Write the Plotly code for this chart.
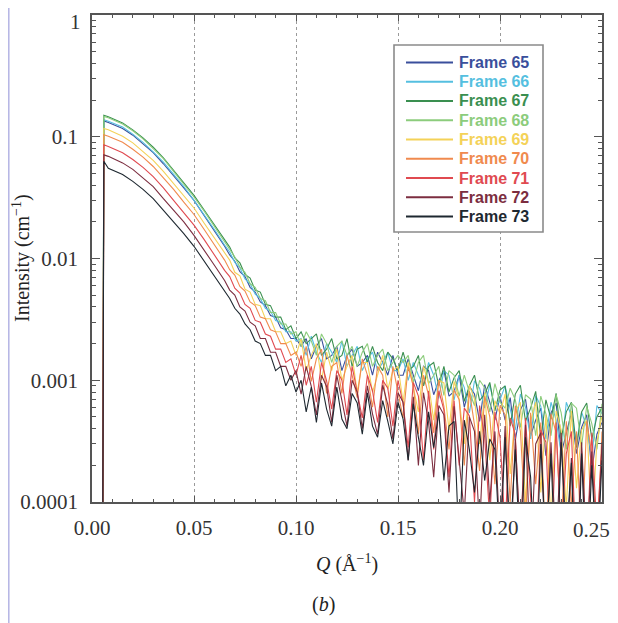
import plotly.graph_objects as go

# Q values (Å^-1)
q = [0.0052, 0.0058, 0.008, 0.0105, 0.015, 0.02, 0.025, 0.03, 0.035, 0.04, 0.045, 0.05, 0.055, 0.06, 0.065,
     0.0675, 0.07, 0.0725, 0.075, 0.0775, 0.08, 0.0825, 0.085, 0.0875, 0.09, 0.0925, 0.095, 0.0975, 0.1,
     0.1025, 0.105, 0.1075, 0.11, 0.1125, 0.115, 0.1175, 0.12, 0.1225, 0.125,
     0.1275, 0.13, 0.1325, 0.135, 0.1375, 0.14, 0.1425, 0.145, 0.1475, 0.15,
     0.1525, 0.155, 0.1575, 0.16, 0.1625, 0.165, 0.1675, 0.17, 0.1725, 0.175,
     0.1775, 0.18, 0.1825, 0.185, 0.1875, 0.19, 0.1925, 0.195, 0.1975, 0.2,
     0.2025, 0.205, 0.2075, 0.21, 0.2125, 0.215, 0.2175, 0.22, 0.2225, 0.225,
     0.2275, 0.23, 0.2325, 0.235, 0.2375, 0.24, 0.2425, 0.245, 0.2475, 0.25]

frame65 = [2e-5, 0.135, 0.131, 0.126, 0.117, 0.103, 0.088, 0.074, 0.060, 0.048, 0.038, 0.030, 0.0225, 0.0169, 0.0126,
           0.0107, 0.0095, 0.0078, 0.0071, 0.0058, 0.0053, 0.0044, 0.0041, 0.0034, 0.0033, 0.0027, 0.0026, 0.0022, 0.0022,
           0.0019, 0.0022, 0.0015, 0.0019, 0.0022, 0.0015, 0.0016, 0.0019, 0.0012, 0.0016,
           0.0018, 0.0013, 0.0014, 0.0016, 0.0011, 0.0017, 0.0014, 0.0011, 0.0016, 0.0011,
           0.0011, 0.0015, 0.0011, 0.00082, 0.0013, 0.0012, 0.00076, 0.00099, 0.0012, 0.00074,
           0.00081, 0.0011, 0.0006, 0.00089, 0.00077, 0.00046, 0.00092, 0.00065, 0.00047, 0.00074,
           0.00047, 0.00072, 0.00032, 0.00057, 0.0007, 0.00035, 0.00047, 0.00059, 0.00024, 0.00054,
           0.00065, 0.00025, 0.00037, 0.00054, 0.00025, 0.00041, 0.00052, 0.00018, 0.00036, 0.00045]

frame66 = [2e-5, 0.138, 0.134, 0.129, 0.120, 0.105, 0.090, 0.075, 0.062, 0.049, 0.039, 0.030, 0.023, 0.0173, 0.0129,
           0.0113, 0.0093, 0.0084, 0.0068, 0.0062, 0.0051, 0.0047, 0.0039, 0.0037, 0.0031, 0.0030, 0.0025, 0.0025, 0.0021,
           0.0022, 0.0016, 0.0023, 0.0017, 0.0014, 0.0020, 0.0017, 0.0014, 0.0021, 0.0013,
           0.0016, 0.0019, 0.0012, 0.0015, 0.0017, 0.0012, 0.0014, 0.0017, 0.0012, 0.0012,
           0.0015, 0.0010, 0.0014, 0.0011, 0.0009, 0.0014, 0.0011, 0.00071, 0.0012, 0.0011,
           0.00069, 0.0011, 0.00087, 0.00054, 0.00099, 0.00086, 0.00059, 0.00092, 0.00059, 0.00069,
           0.0009, 0.00058, 0.00039, 0.00077, 0.0006, 0.00033, 0.00075, 0.00061, 0.00033, 0.00066,
           0.00047, 0.00025, 0.00066, 0.00051, 0.0003, 0.00055, 0.00041, 0.00023, 0.00062, 0.00053]

frame67 = [2e-5, 0.150, 0.146, 0.140, 0.130, 0.114, 0.098, 0.082, 0.067, 0.053, 0.042, 0.033, 0.025, 0.0188, 0.0140,
           0.0124, 0.0101, 0.0092, 0.0074, 0.0069, 0.0055, 0.0053, 0.0042, 0.0041, 0.0033, 0.0033, 0.0026, 0.0028, 0.0022,
           0.0025, 0.0020, 0.0022, 0.0024, 0.0016, 0.0018, 0.0022, 0.0015, 0.0016, 0.0022,
           0.0013, 0.0018, 0.0019, 0.0014, 0.0019, 0.0014, 0.0012, 0.0017, 0.0015, 0.0012,
           0.0017, 0.0012, 0.0013, 0.0016, 0.0009, 0.0013, 0.0014, 0.0009, 0.0013, 0.0008,
           0.00105, 0.0012, 0.00067, 0.0009, 0.0011, 0.00068, 0.00077, 0.00096, 0.00056, 0.00083,
           0.0009, 0.00042, 0.00077, 0.00091, 0.00046, 0.00059, 0.00081, 0.00033, 0.00069, 0.00048,
           0.00078, 0.00033, 0.00055, 0.00066, 0.00028, 0.00055, 0.00065, 0.00033, 0.0005, 0.0006]

frame68 = [2e-5, 0.147, 0.143, 0.137, 0.127, 0.112, 0.096, 0.080, 0.066, 0.052, 0.041, 0.032, 0.0245, 0.0184, 0.0137,
           0.0117, 0.0103, 0.0085, 0.0077, 0.0062, 0.0058, 0.0047, 0.0045, 0.0036, 0.0036, 0.0029, 0.0029, 0.0024, 0.0025,
           0.0019, 0.0025, 0.0021, 0.0016, 0.0024, 0.0020, 0.0014, 0.0019, 0.0021, 0.0016,
           0.0019, 0.0013, 0.0017, 0.0020, 0.0013, 0.0016, 0.0018, 0.0012, 0.0014, 0.0016,
           0.0014, 0.0016, 0.00096, 0.0014, 0.0016, 0.00094, 0.0011, 0.0013, 0.00075, 0.0012,
           0.0011, 0.00074, 0.0011, 0.0008, 0.00062, 0.001, 0.00087, 0.00055, 0.00094, 0.00066,
           0.00059, 0.00086, 0.00069, 0.00041, 0.00076, 0.0007, 0.00035, 0.00074, 0.00053, 0.00035,
           0.00076, 0.00054, 0.00027, 0.00065, 0.00059, 0.00029, 0.00061, 0.00044, 0.00027, 0.00064]

frame69 = [2e-5, 0.117, 0.114, 0.109, 0.101, 0.089, 0.076, 0.064, 0.052, 0.041, 0.033, 0.026, 0.0195, 0.0147, 0.0109,
           0.0097, 0.0077, 0.0072, 0.0056, 0.0053, 0.0042, 0.0041, 0.0032, 0.0032, 0.0025, 0.0025, 0.0020, 0.0021, 0.0016,
           0.0022, 0.0012, 0.0016, 0.0020, 0.0010, 0.0017, 0.0012, 0.0018, 0.0010, 0.0013,
           0.0016, 0.0008, 0.0014, 0.0014, 0.0008, 0.0011, 0.0016, 0.00084, 0.0012, 0.0013,
           0.00066, 0.0014, 0.0009, 0.00055, 0.0013, 0.00094, 0.00047, 0.0010, 0.00095, 0.00039,
           0.00098, 0.0007, 0.0003, 0.00091, 0.0007, 0.0003, 0.00079, 0.00022, 0.00068, 0.00053,
           0.00077, 0.00017, 0.00055, 0.00066, 0.0001, 0.00046, 0.00066, 0.00012, 0.00052, 0.00007,
           0.00056, 0.00039, 0.00009, 0.00056, 0.00013, 0.00039, 0.00047, 0.00006, 0.00031, 0.00051]

frame70 = [2e-5, 0.104, 0.101, 0.097, 0.090, 0.079, 0.068, 0.057, 0.046, 0.037, 0.029, 0.023, 0.0173, 0.0130, 0.0097,
           0.0081, 0.0073, 0.0059, 0.0054, 0.0044, 0.0041, 0.0033, 0.0032, 0.0026, 0.0025, 0.0020, 0.0020, 0.0016, 0.0017,
           0.0013, 0.0019, 0.00098, 0.0015, 0.0018, 0.00078, 0.0013, 0.0014, 0.00078, 0.0016,
           0.0011, 0.00072, 0.0015, 0.0011, 0.0006, 0.0013, 0.0011, 0.0005, 0.0013, 0.00078,
           0.00049, 0.0013, 0.0009, 0.00036, 0.0011, 0.00075, 0.00037, 0.0010, 0.00061, 0.00027,
           0.00083, 0.00069, 0.0002, 0.00081, 0.00043, 0.00018, 0.00074, 0.0005, 0.00014, 0.00062,
           0.00052, 0.0001, 0.00062, 0.00038, 0.00007, 0.00054, 0.00014, 0.00045, 0.00004, 0.00053,
           0.00037, 0.00006, 0.00046, 0.00009, 0.00038, 0.00004, 0.00046, 0.00025, 0.00004, 0.00038]

frame71 = [2e-5, 0.086, 0.083, 0.080, 0.074, 0.065, 0.056, 0.047, 0.038, 0.030, 0.024, 0.0188, 0.0143, 0.0107, 0.0080,
           0.0071, 0.0057, 0.0052, 0.0042, 0.0039, 0.0031, 0.0030, 0.0024, 0.0023, 0.0018, 0.0018, 0.0014, 0.0015, 0.0011,
           0.0016, 0.00091, 0.0013, 0.00066, 0.0014, 0.00099, 0.00058, 0.0012, 0.0010, 0.00052,
           0.0013, 0.00078, 0.00049, 0.0011, 0.00082, 0.00045, 0.0010, 0.00086, 0.00042, 0.0010,
           0.00064, 0.00028, 0.00096, 0.00074, 0.00022, 0.00082, 0.00027, 0.00082, 0.00057, 0.00016,
           0.00068, 0.0002, 0.00059, 0.00051, 0.0001, 0.00062, 0.00034, 0.00007, 0.00055, 0.00034,
           0.00006, 0.00049, 0.00036, 0.00004, 0.00049, 0.00011, 0.00003, 0.00039, 0.00031, 0.00003,
           0.00045, 0.00005, 0.00025, 0.00038, 0.00003, 0.00026, 0.00004, 0.00037, 0.00006, 0.00029]

frame72 = [2e-5, 0.071, 0.069, 0.066, 0.061, 0.054, 0.046, 0.039, 0.031, 0.025, 0.020, 0.0155, 0.0118, 0.0088, 0.0066,
           0.0055, 0.0050, 0.0040, 0.0037, 0.0030, 0.0028, 0.0022, 0.0022, 0.0017, 0.0017, 0.0013, 0.0013, 0.0010, 0.0012,
           0.00077, 0.0013, 0.00089, 0.00052, 0.0011, 0.00089, 0.00045, 0.0011, 0.00068, 0.00042,
           0.0010, 0.0008, 0.0004, 0.0009, 0.00053, 0.00036, 0.00091, 0.00063, 0.00033, 0.00079,
           0.00066, 0.00022, 0.00073, 0.0002, 0.00079, 0.00045, 0.00016, 0.00062, 0.00052, 0.00012,
           0.00061, 0.00024, 0.00008, 0.0005, 0.00038, 0.00006, 0.00052, 0.0001, 0.00038, 0.00005,
           0.00042, 0.00003, 0.00033, 0.00005, 0.00043, 0.00003, 0.0003, 0.00037, 0.00003, 0.00031,
           0.00004, 0.00037, 0.00003, 0.00023, 0.00002, 0.00031, 0.00004, 0.00026, 0.00003, 0.00031]

frame73 = [2e-5, 0.063, 0.055, 0.053, 0.049, 0.043, 0.037, 0.031, 0.025, 0.020, 0.016, 0.0126, 0.0095, 0.0071, 0.0053,
           0.0047, 0.0039, 0.0035, 0.0029, 0.0026, 0.0021, 0.0020, 0.0016, 0.0016, 0.0012, 0.0013, 0.0009, 0.0011, 0.0008,
           0.0010, 0.00055, 0.00088, 0.00045, 0.00095, 0.00058, 0.00042, 0.00088, 0.00048, 0.0004,
           0.00078, 0.00065, 0.00036, 0.00079, 0.00042, 0.00034, 0.00068, 0.00046, 0.0003, 0.00066,
           0.00048, 0.00022, 0.00064, 0.00034, 0.0002, 0.00055, 0.00028, 0.00055, 0.00015, 0.00042,
           0.00046, 0.00004, 0.00047, 0.00027, 0.00012, 0.00038, 0.00015, 0.00033, 0.00027, 0.00004,
           0.00034, 0.00005, 0.00027, 0.00003, 0.00034, 0.00016, 0.00002, 0.0003, 0.00004, 0.00025,
           0.00002, 0.00031, 0.00005, 0.00021, 0.00001, 0.00025, 0.00002, 0.0002, 0.00003, 0.00022]

frame_names = ["Frame 65", "Frame 66", "Frame 67", "Frame 68", "Frame 69",
               "Frame 70", "Frame 71", "Frame 72", "Frame 73"]
frame_colors = ["#3a4f9c", "#55bfe0", "#3a8f50", "#8ccc7c", "#f4d258",
                "#f08a4e", "#e04a50", "#7c2e40", "#1e2830"]
series = [frame65, frame66, frame67, frame68, frame69, frame70, frame71, frame72, frame73]

for s in series:
    assert len(s) == len(q), (len(s), len(q))

# tick labels; the end labels "1" and "0.25" sit on the frame edge and are placed as text
y_tickvals = [1e-4, 1e-3, 1e-2, 1e-1]
y_ticktext = ["0.0001", "0.001", "0.01", "0.1"]
x_tickvals = [0, 0.05, 0.10, 0.15, 0.20]
x_ticktext = ["0.00", "0.05", "0.10", "0.15", "0.20"]
y_top_label = "1"
x_end_label = "0.25"
y_minor = [k * 10.0 ** e for e in range(-4, 0) for k in range(2, 10)]

# page has an 8px body margin: figure occupies page pixels 8..618 x 8..623
OFF = 8
W, H = 618 - OFF, 623 - OFF
# plot area in page pixels: x 92..602, y 15..502
ml, mr, mt, mb = 92 - OFF, 618 - 602, 15 - OFF, 623 - 502
pw, ph = W - ml - mr, H - mt - mb


def px2x(px):
    return (px - OFF - ml) / pw


def px2y(py):
    return (H - mb - (py - OFF)) / ph


serif = "Liberation Serif, Times New Roman, serif"
sans = "Liberation Sans, Arial, sans-serif"
axis_col = "#555555"
tick_font = dict(family=serif, size=21, color="#333333")

fig = go.Figure()
for name, color, ys in zip(frame_names, frame_colors, series):
    fig.add_trace(go.Scatter(x=q, y=ys, mode="lines", line=dict(color=color, width=1.1),
                             name=name, showlegend=False))

# legend drawn as a framed key (box, line samples, coloured bold labels)
shapes = [
    dict(type="line", xref="paper", yref="paper", x0=px2x(8.8), x1=px2x(8.8), y0=px2y(8), y1=px2y(623),
         line=dict(color="#b4b4e4", width=1.5)),
    dict(type="rect", xref="paper", yref="paper", x0=px2x(394), x1=px2x(543), y0=px2y(45), y1=px2y(232),
         line=dict(color="#8a8a8a", width=1.6), fillcolor="white", layer="above"),
]
annotations = []
for i, (name, color) in enumerate(zip(frame_names, frame_colors)):
    yc = 62.5 + 19.25 * i
    shapes.append(dict(type="line", xref="paper", yref="paper", x0=px2x(406), x1=px2x(453),
                       y0=px2y(yc), y1=px2y(yc), line=dict(color=color, width=2), layer="above"))
    annotations.append(dict(text=f"<b>{name}</b>", xref="paper", yref="paper", x=px2x(457), y=px2y(yc),
                            xanchor="left", yanchor="middle", showarrow=False,
                            font=dict(family=sans, size=16, color=color)))

annotations += [
    dict(text=y_top_label, xref="paper", yref="paper", x=px2x(83), y=px2y(22),
         xanchor="right", yanchor="middle", showarrow=False, font=tick_font),
    dict(text=x_end_label, xref="paper", yref="paper", x=px2x(612), y=px2y(516),
         xanchor="right", yanchor="top", showarrow=False, font=tick_font),
    dict(text="Intensity (cm<sup>−1</sup>)", textangle=-90, xref="paper", yref="paper",
         x=px2x(21), y=px2y(258), xanchor="center", yanchor="middle",
         showarrow=False, font=dict(family=serif, size=20, color="#222222")),
    dict(text="<i>Q</i> (Å<sup>−1</sup>)", xref="paper", yref="paper",
         x=px2x(347), y=px2y(563), xanchor="center", yanchor="middle",
         showarrow=False, font=dict(family=serif, size=20, color="#222222")),
    dict(text="(<i>b</i>)", xref="paper", yref="paper",
         x=px2x(323), y=px2y(604), xanchor="center", yanchor="middle",
         showarrow=False, font=dict(family=serif, size=20, color="#222222")),
]

fig.update_layout(
    width=W, height=H,
    margin=dict(l=ml, r=mr, t=mt, b=mb, autoexpand=False),
    paper_bgcolor="white", plot_bgcolor="white",
    showlegend=False,
    xaxis=dict(
        range=[0, 0.25], tickvals=x_tickvals, ticktext=x_ticktext, automargin=False,
        ticks="inside", ticklen=6, tickcolor=axis_col, tickwidth=1,
        showline=True, linecolor=axis_col, linewidth=1.5, mirror="ticks",
        showgrid=True, gridcolor="#9a9a9a", griddash="dot", gridwidth=1,
        zeroline=False, ticklabeloverflow="allow",
        minor=dict(dtick=0.01, tick0=0, ticks="inside", ticklen=3, tickcolor=axis_col, showgrid=False),
        tickfont=tick_font, ticklabelstandoff=6),
    yaxis=dict(
        type="log", range=[-4, 0], tickvals=y_tickvals, ticktext=y_ticktext, automargin=False,
        ticks="inside", ticklen=8, tickcolor=axis_col, tickwidth=1,
        showline=True, linecolor=axis_col, linewidth=1.5, mirror="ticks",
        showgrid=False, zeroline=False, ticklabeloverflow="allow",
        minor=dict(tickvals=y_minor, ticks="inside", ticklen=4, tickcolor=axis_col, showgrid=False),
        tickfont=tick_font, ticklabelstandoff=8),
    annotations=annotations,
    shapes=shapes,
)

fig.write_html("out.html")
